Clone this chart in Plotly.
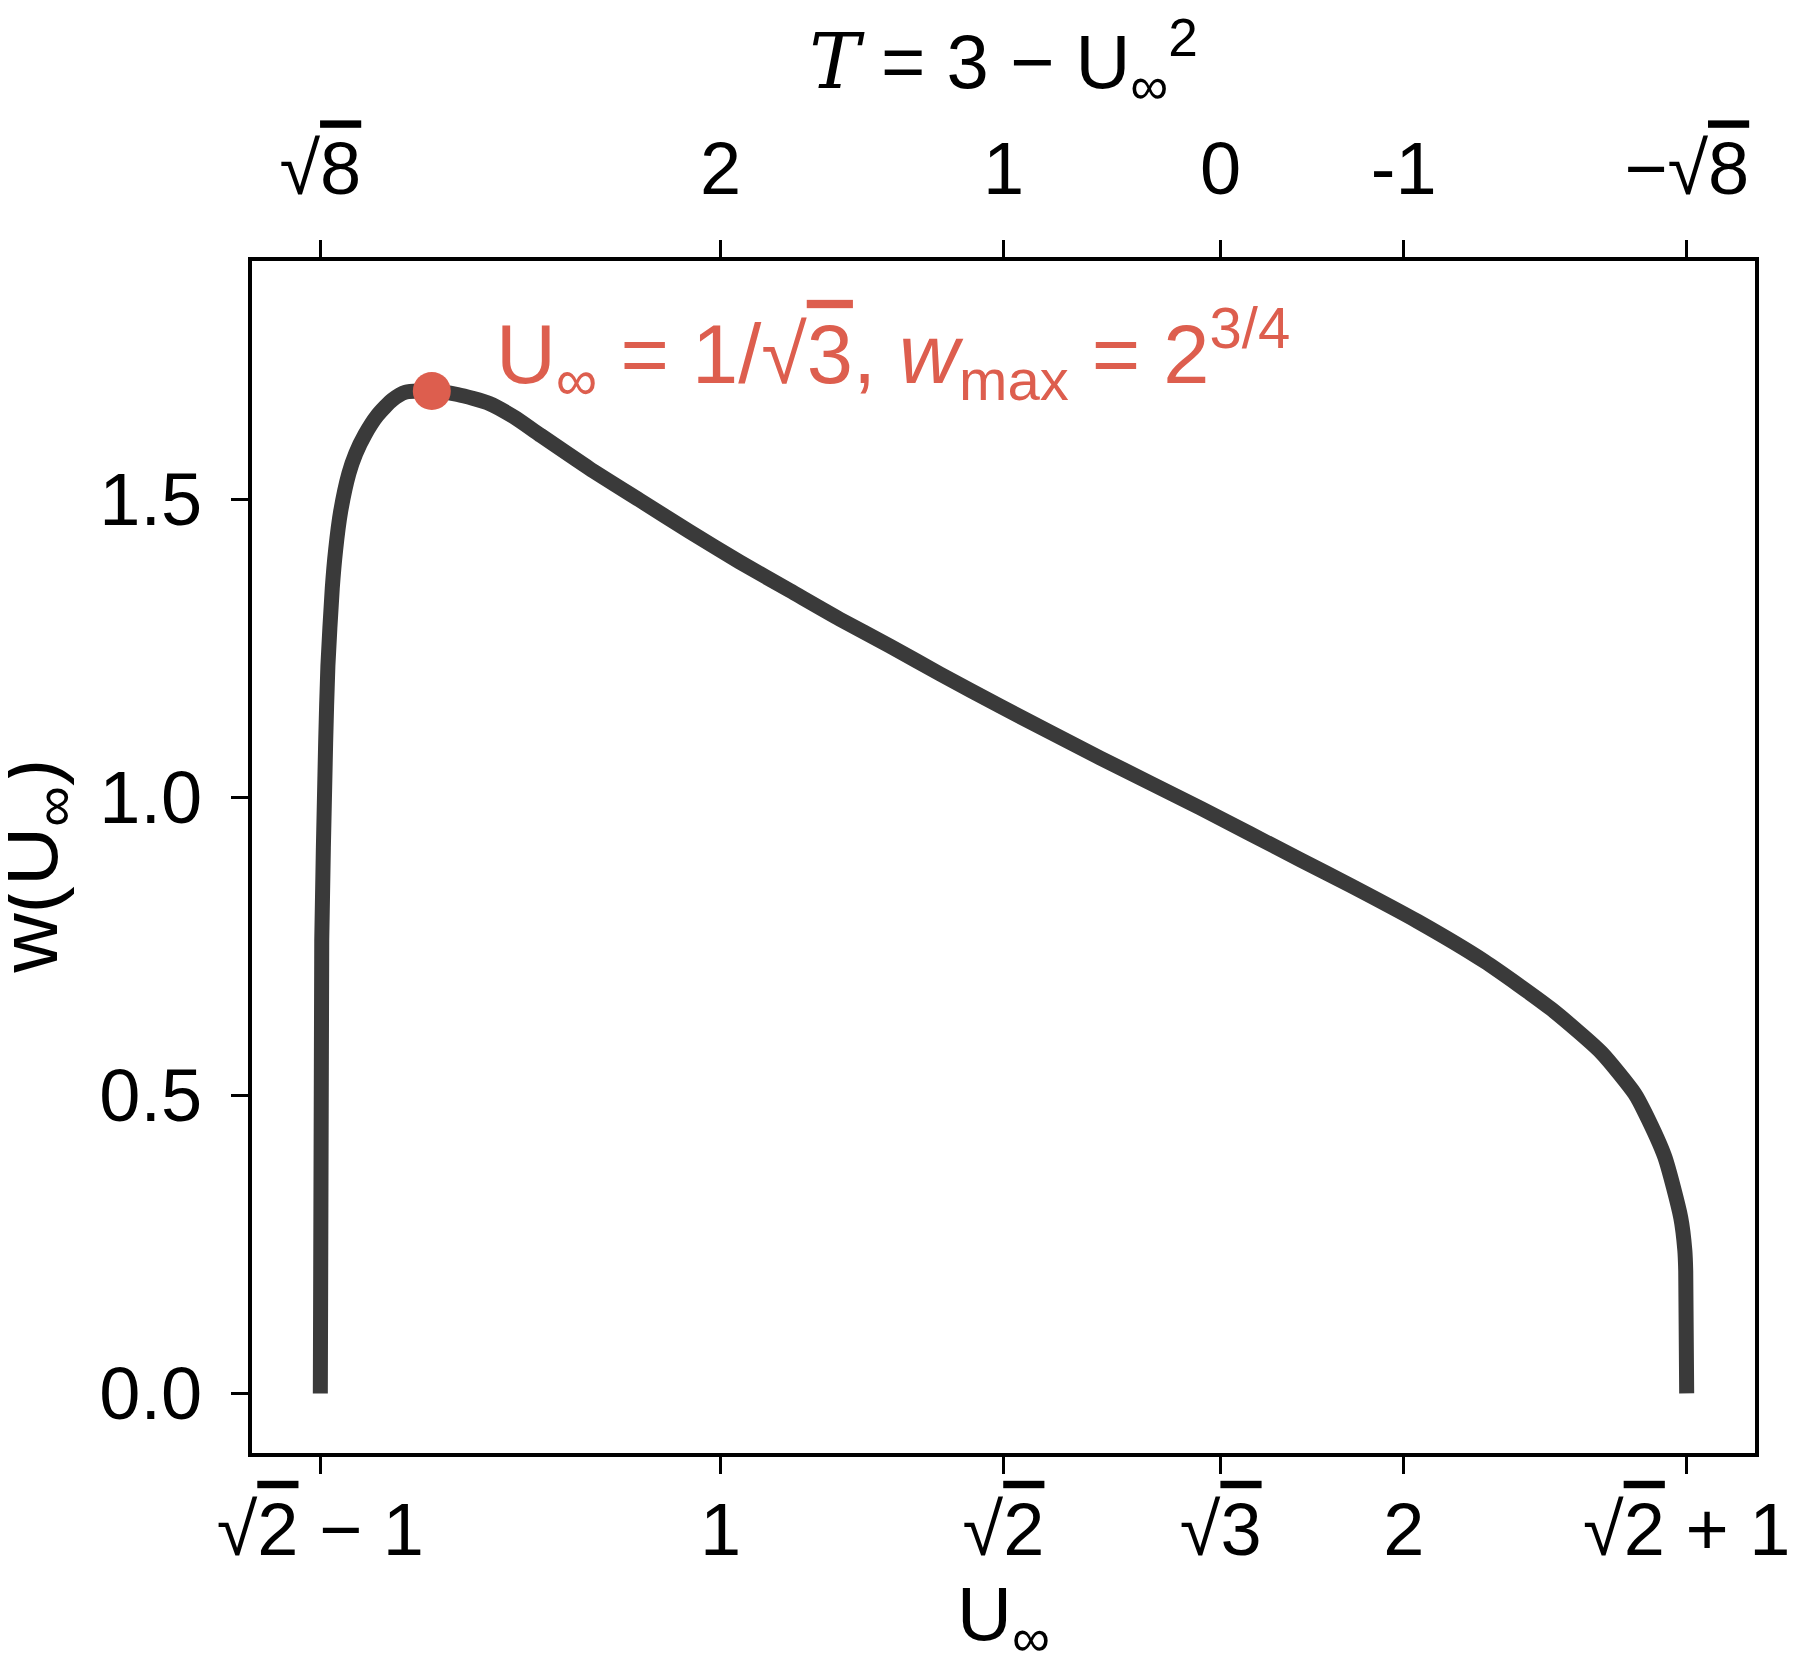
import plotly.graph_objects as go

# w(U_inf)
u_inf = [0.4142, 0.4163, 0.4220, 0.4253, 0.4317, 0.4366, 0.4440, 0.4561, 0.4660,
         0.4796, 0.4977, 0.5196, 0.5393, 0.5774, 0.6150, 0.6615, 0.6981, 0.7348,
         0.8081, 0.8814, 0.9548, 1.0281, 1.1014, 1.1747, 1.2481, 1.3214, 1.4093,
         1.5560, 1.7026, 1.8493, 1.9226, 2.0204, 2.1181, 2.2159, 2.2892, 2.3381,
         2.3528, 2.3821, 2.4055, 2.4115, 2.4128, 2.4142]
w_vals = [0.0, 0.76, 1.092, 1.221, 1.351, 1.415, 1.480, 1.544, 1.577,
          1.609, 1.641, 1.667, 1.680, 1.682, 1.676, 1.661, 1.638, 1.609,
          1.552, 1.499, 1.446, 1.395, 1.347, 1.299, 1.254, 1.207, 1.153,
          1.066, 0.982, 0.895, 0.852, 0.792, 0.725, 0.645, 0.572, 0.503,
          0.472, 0.397, 0.295, 0.240, 0.205, 0.0]

peak_u = [0.5774]
peak_w = [1.6818]

tick_u = [0.4142, 1.0, 1.4142, 1.7321, 2.0, 2.4142]
ov = "<span style='text-decoration:overline'>{}</span>"
bottom_labels = ["√" + ov.format("2") + " − 1", "1", "√" + ov.format("2"),
                 "√" + ov.format("3"), "2", "√" + ov.format("2") + " + 1"]
top_labels = ["√" + ov.format("8"), "2", "1", "0", "-1", "−√" + ov.format("8")]

y_ticks = [0.0, 0.5, 1.0, 1.5]
y_labels = ["0.0", "0.5", "1.0", "1.5"]

x_range = [0.3142, 2.5142]
y_range = [-0.1, 1.9]

FONT = "Liberation Sans, Arial, sans-serif"
RED = "#dd5e4e"
LINE = "#3a3a3a"

fig = go.Figure()
fig.add_scatter(
    x=u_inf, y=w_vals, mode="lines",
    line=dict(color=LINE, width=15, shape="spline", smoothing=0.6),
    showlegend=False, hoverinfo="skip",
)
fig.add_scatter(
    x=peak_u, y=peak_w, mode="markers", xaxis="x2",
    marker=dict(color=RED, size=38, line=dict(width=0)),
    showlegend=False, hoverinfo="skip",
)

fig.add_annotation(
    x=0.668, y=1.745, xref="x", yref="y", xanchor="left", yanchor="middle",
    text="U<sub>∞</sub> = 1/√" + ov.format("3") + ", <i>w</i><sub>max</sub> = 2<sup>3/4</sup>",
    showarrow=False, font=dict(family=FONT, size=83, color=RED),
)

# y-axis title as a rotated annotation (axis title overlapped the tick labels)
fig.add_annotation(
    x=-0.145, y=0.492, xref="paper", yref="paper", xanchor="center", yanchor="middle",
    text="w(U<sub>∞</sub>)", textangle=-90, showarrow=False,
    font=dict(family=FONT, size=82, color="black"),
)

axis_common = dict(
    showline=True, linecolor="black", linewidth=4,
    ticks="outside", ticklen=17, tickwidth=3, tickcolor="black",
    showgrid=False, zeroline=False, automargin=False,
    tickfont=dict(family=FONT, size=74, color="black"),
)

fig.update_layout(
    width=1800, height=1667,
    margin=dict(l=244, r=53, t=253, b=222),
    paper_bgcolor="white", plot_bgcolor="white",
    font=dict(family=FONT, color="black"),
    xaxis=dict(
        **axis_common, range=x_range, mirror=True,
        tickmode="array", tickvals=tick_u, ticktext=bottom_labels,
        ticklabelstandoff=-8,
        title=dict(text="U<sub>∞</sub>", font=dict(family=FONT, size=76), standoff=4),
    ),
    xaxis2=dict(
        **axis_common, range=x_range, overlaying="x", side="top", anchor="y",
        tickmode="array", tickvals=tick_u, ticktext=top_labels,
        ticklabelstandoff=16,
        title=dict(
            text="<span style='font-family:\"DejaVu Serif\";font-style:italic'>T</span>"
                 " = 3 − U<sub>∞</sub><sup>2</sup>",
            font=dict(family=FONT, size=76), standoff=30,
        ),
    ),
    yaxis=dict(
        **axis_common, range=y_range, mirror=True,
        tickmode="array", tickvals=y_ticks, ticktext=y_labels,
        ticklabelstandoff=14,
    ),
)

fig.write_html("out.html")
